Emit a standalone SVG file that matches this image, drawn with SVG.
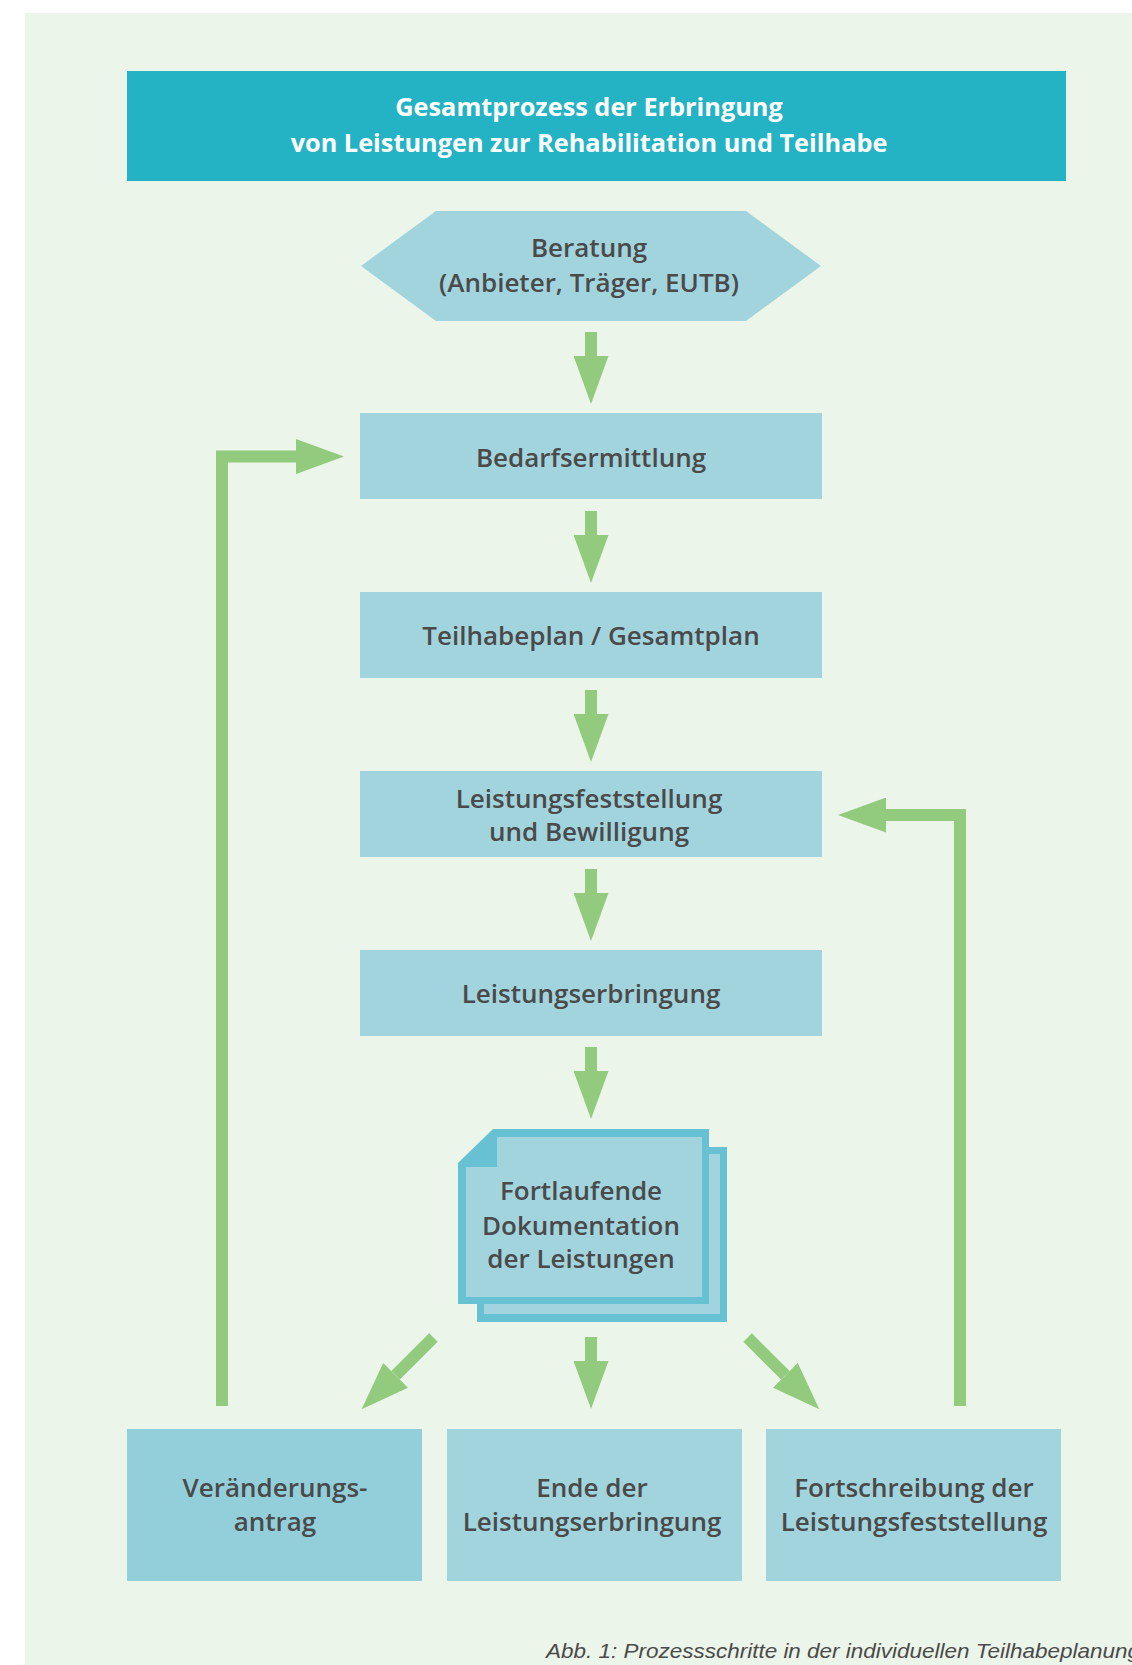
<svg xmlns="http://www.w3.org/2000/svg" width="1132" height="1665" viewBox="0 0 1132 1665">
  <style>
    .node { fill: #A2D4DE; }
    .node-dark { fill: #93CFDB; }
    .lbl { font-family: "Open Sans", "Noto Sans", "DejaVu Sans", sans-serif; font-weight: 600; font-size: 26px; fill: #4A4A4A; text-anchor: middle; }
    .title { font-family: "Open Sans", "Noto Sans", "DejaVu Sans", sans-serif; font-weight: 700; font-size: 25.3px; fill: #FFFFFF; text-anchor: middle; }
    .caption { font-family: "Liberation Sans", Arial, sans-serif; font-style: italic; font-size: 21px; fill: #4A4A4A; }
    .conn { fill: none; stroke: #93CB7E; stroke-width: 12; stroke-linecap: butt; stroke-linejoin: miter; }
    .docborder { fill: #67C1D3; }
  </style>
  <defs>
    <marker id="head" markerUnits="userSpaceOnUse" markerWidth="48" markerHeight="35" refX="0" refY="17.5" orient="auto" viewBox="0 0 48 35">
      <path d="M0,0 L48,17.5 L0,35 Z" fill="#93CB7E"/>
    </marker>
  </defs>

  <rect x="0" y="0" width="1132" height="1665" fill="#FFFFFF"/>
  <rect x="25" y="13" width="1107" height="1652" fill="#EBF5E9"/>

  <g id="title">
    <rect x="127" y="71" width="939" height="110" fill="#23B3C5"/>
    <text class="title" x="589" y="116">Gesamtprozess der Erbringung</text>
    <text class="title" x="589" y="152">von Leistungen zur Rehabilitation und Teilhabe</text>
  </g>

  <g id="beratung">
    <polygon class="node" points="361,266 436,211 746,211 821,266 746,321 436,321"/>
    <text class="lbl" x="589" y="257">Beratung</text>
    <text class="lbl" x="589" y="292">(Anbieter, Träger, EUTB)</text>
  </g>

  <g id="bedarfsermittlung">
    <rect class="node" x="360" y="413" width="462" height="86"/>
    <text class="lbl" x="591" y="467">Bedarfsermittlung</text>
  </g>

  <g id="teilhabeplan">
    <rect class="node" x="360" y="592" width="462" height="86"/>
    <text class="lbl" x="591" y="645">Teilhabeplan / Gesamtplan</text>
  </g>

  <g id="leistungsfeststellung">
    <rect class="node" x="360" y="771" width="462" height="86"/>
    <text class="lbl" x="589" y="808">Leistungsfeststellung</text>
    <text class="lbl" x="589" y="841">und Bewilligung</text>
  </g>

  <g id="leistungserbringung">
    <rect class="node" x="360" y="950" width="462" height="86"/>
    <text class="lbl" x="591" y="1003">Leistungserbringung</text>
  </g>

  <g id="dokumentation">
    <rect class="docborder" x="477" y="1147" width="250" height="175"/>
    <rect class="node" x="484" y="1154" width="236" height="160"/>
    <polygon class="docborder" points="458,1163 493,1129 709,1129 709,1304 458,1304"/>
    <polygon class="node" points="466,1167 497,1167 497,1137 702,1137 702,1297 466,1297"/>
    <text class="lbl" x="581" y="1200">Fortlaufende</text>
    <text class="lbl" x="581" y="1235">Dokumentation</text>
    <text class="lbl" x="581" y="1268">der Leistungen</text>
  </g>

  <g id="veraenderungsantrag">
    <rect class="node-dark" x="127" y="1429" width="295" height="152"/>
    <text class="lbl" x="275" y="1497">Veränderungs-</text>
    <text class="lbl" x="275" y="1531">antrag</text>
  </g>

  <g id="ende">
    <rect class="node" x="447" y="1429" width="295" height="152"/>
    <text class="lbl" x="592" y="1497">Ende der</text>
    <text class="lbl" x="592" y="1531">Leistungserbringung</text>
  </g>

  <g id="fortschreibung">
    <rect class="node" x="766" y="1429" width="295" height="152"/>
    <text class="lbl" x="914" y="1497">Fortschreibung der</text>
    <text class="lbl" x="914" y="1531">Leistungsfeststellung</text>
  </g>

  <g id="connectors">
    <path class="conn" d="M591,332 V356" marker-end="url(#head)"/>
    <path class="conn" d="M591,511 V535" marker-end="url(#head)"/>
    <path class="conn" d="M591,690 V714" marker-end="url(#head)"/>
    <path class="conn" d="M591,869 V893" marker-end="url(#head)"/>
    <path class="conn" d="M591,1047 V1071" marker-end="url(#head)"/>
    <path class="conn" d="M591,1337 V1361" marker-end="url(#head)"/>
    <path class="conn" d="M433.4,1337.5 L395.6,1375.3" marker-end="url(#head)"/>
    <path class="conn" d="M747.6,1337.5 L785.4,1375.3" marker-end="url(#head)"/>
    <path class="conn" d="M222,1406 V456.5 H296" marker-end="url(#head)"/>
    <path class="conn" d="M960,1406 V815 H886" marker-end="url(#head)"/>
  </g>

  <text class="caption" x="546" y="1658" textLength="594" lengthAdjust="spacingAndGlyphs">Abb. 1: Prozessschritte in der individuellen Teilhabeplanung</text>
</svg>
